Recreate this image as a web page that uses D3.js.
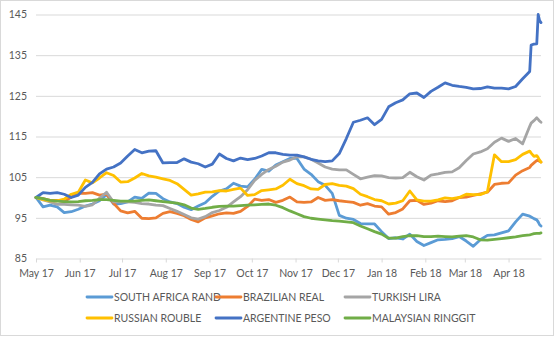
<!DOCTYPE html>
<html><head><meta charset="utf-8">
<script src="https://cdn.jsdelivr.net/npm/d3@7"></script>
<style>
html,body{margin:0;padding:0;background:#fff;}
svg{display:block;font-family:Lato,"Open Sans",sans-serif;}
</style></head><body>
<svg id="chart" width="555" height="337"></svg>
<script>
const dates = ["2017-05-01","2017-05-06","2017-05-11","2017-05-16","2017-05-21","2017-05-26","2017-05-31","2017-06-05","2017-06-10","2017-06-15","2017-06-20","2017-06-25","2017-06-30","2017-07-05","2017-07-10","2017-07-15","2017-07-20","2017-07-25","2017-07-30","2017-08-04","2017-08-09","2017-08-14","2017-08-19","2017-08-24","2017-08-29","2017-09-03","2017-09-08","2017-09-13","2017-09-18","2017-09-23","2017-09-28","2017-10-03","2017-10-08","2017-10-13","2017-10-18","2017-10-23","2017-10-28","2017-11-02","2017-11-07","2017-11-12","2017-11-17","2017-11-22","2017-11-27","2017-12-02","2017-12-07","2017-12-12","2017-12-17","2017-12-22","2017-12-27","2018-01-01","2018-01-06","2018-01-11","2018-01-16","2018-01-21","2018-01-26","2018-01-31","2018-02-05","2018-02-10","2018-02-15","2018-02-20","2018-02-25","2018-03-02","2018-03-07","2018-03-12","2018-03-17","2018-03-22","2018-03-27","2018-04-01","2018-04-06","2018-04-11","2018-04-16","2018-04-17","2018-04-19","2018-04-21","2018-04-22","2018-04-23","2018-04-24"];

const southAfricaRand = [100,97.7,98.1,97.7,96.3,96.5,97.1,97.9,98.4,99.2,100.7,98.4,98.5,98.9,100.1,99.8,101.1,101.0,99.7,98.9,98.5,97.6,97.0,97.9,98.7,100.3,101.6,102.1,103.5,102.8,102.6,104.5,106.9,106.5,108.0,108.8,109.6,109.6,107.0,105.7,103.9,103.0,101.0,95.6,94.9,94.6,93.6,93.5,93.5,91.6,89.9,90.1,89.8,91.0,89.2,88.2,88.9,89.6,89.7,89.9,90.4,89.3,88.0,89.6,90.7,90.8,91.3,91.8,94.0,95.9,95.4,95.2,94.8,94.5,94.0,93.3,93.0];
const brazilianReal = [100,99.7,99.3,99.3,99.0,100.1,101.1,101.0,101.2,100.6,100.8,98.6,96.7,96.2,96.6,94.9,94.8,95.0,96.1,96.5,96.1,95.5,94.6,94.0,95.0,95.5,96.0,96.2,96.1,96.6,97.8,99.6,99.3,99.5,98.8,99.3,100.1,98.9,98.8,98.9,100.0,99.3,99.5,99.2,99.0,98.8,98.1,98.5,97.9,97.7,95.9,96.3,97.2,99.2,99.3,98.3,98.6,99.2,99.0,99.2,100.0,100.1,100.5,100.9,101.3,103.2,103.5,103.6,105.5,106.6,107.4,107.9,108.5,109.1,109.1,108.9,108.7];
const turkishLira = [100,99.4,98.9,98.3,98.3,98.2,98.1,97.8,98.2,99.8,101.3,98.9,98.9,98.9,98.8,98.5,98.4,98.1,98.0,97.3,96.6,95.8,95.0,94.7,95.3,96.3,96.8,97.6,98.9,100.2,101.9,104.2,105.7,106.9,107.7,108.7,109.2,110.0,110.0,109.4,108.5,107.5,107.0,106.8,106.8,105.7,104.6,105.0,105.4,105.3,104.9,104.8,104.9,106.2,105.1,104.3,105.5,105.8,106.2,106.3,107.3,109.1,110.7,111.2,112.0,113.6,114.6,113.8,114.5,113.2,117.5,118.3,118.9,119.6,119.2,118.8,118.5];
const russianRouble = [100,99.5,99.2,99.2,99.6,100.8,101.3,104.3,103.6,104.8,106.1,105.4,103.8,103.9,104.8,105.9,105.3,105.0,104.6,104.2,103.4,102.0,100.6,100.9,101.3,101.4,101.7,101.6,102.0,102.3,100.5,100.7,101.7,101.9,102.1,103.0,104.5,103.4,102.9,102.1,102.0,103.2,103.4,103.0,102.8,102.2,100.8,100.2,99.5,99.2,98.4,98.6,99.2,101.6,99.4,99.1,99.1,99.4,99.9,99.7,100.0,100.8,100.7,100.7,101.4,110.5,108.8,108.8,109.3,110.6,111.4,110.9,110.1,110.3,109.8,109.2,108.7];
const argentinePeso = [100,101.2,101.0,101.2,100.8,100.0,100.6,102.5,103.7,105.8,107.0,107.5,108.5,110.2,111.8,111.0,111.4,111.5,108.5,108.6,108.6,109.5,108.7,108.3,107.5,108.2,110.7,109.6,109.0,109.7,109.3,109.6,110.2,111.0,111.0,110.6,110.4,110.4,110.0,109.4,109.0,108.8,109.0,110.8,114.5,118.5,119.0,119.6,117.9,119.2,122.3,123.3,124.0,125.5,125.7,124.6,126.1,127.1,128.2,127.6,127.3,127.1,126.7,126.8,127.2,126.9,126.9,126.7,127.3,129.2,131.0,137.5,137.7,137.8,145.0,143.5,143.0];
const malaysianRinggit = [100,99.7,99.3,99.1,99.0,98.9,99.0,99.2,99.3,99.5,99.5,99.3,99.1,99.1,99.1,99.3,99.4,99.2,99.0,98.8,98.6,98.2,97.4,97.1,97.3,97.6,97.8,97.9,97.9,98.0,98.1,98.2,98.3,98.4,98.1,97.5,96.7,96.0,95.3,94.9,94.7,94.5,94.3,94.2,94.0,93.8,93.0,92.3,91.6,91.0,90.0,90.0,90.4,90.6,90.6,90.4,90.4,90.5,90.4,90.3,90.5,90.6,90.3,89.6,89.5,89.7,89.9,90.1,90.3,90.6,90.8,90.9,91.1,91.2,91.2,91.2,91.3];

const seriesNames = ["SOUTH AFRICA RAND","BRAZILIAN REAL","TURKISH LIRA","RUSSIAN ROUBLE","ARGENTINE PESO","MALAYSIAN RINGGIT"];
const seriesColors = ["#5B9BD5","#ED7D31","#A5A5A5","#FFC000","#4472C4","#70AD47"];
const seriesValues = [southAfricaRand, brazilianReal, turkishLira, russianRouble, argentinePeso, malaysianRinggit];

const yTicks = [85,95,105,115,125,135,145];
const xTickDates = ["2017-05-01","2017-06-01","2017-07-01","2017-08-01","2017-09-01","2017-10-01","2017-11-01","2017-12-01","2018-01-01","2018-02-01","2018-03-01","2018-04-01"];
const xTickLabels = ["May 17","Jun 17","Jul 17","Aug 17","Sep 17","Oct 17","Nov 17","Dec 17","Jan 18","Feb 18","Mar 18","Apr 18"];

const parse = d3.timeParse("%Y-%m-%d");
const dts = dates.map(parse);
const svg = d3.select("#chart");

svg.append("rect").attr("x",0.5).attr("y",0.5).attr("width",553).attr("height",335)
  .attr("fill","#fff").attr("stroke","#D9D9D9");

const x = d3.scaleTime().domain(d3.extent(dts)).range([36, 541]);
const y = d3.scaleLinear().domain([85,145]).range([258.5, 14.5]);

const yAxis = d3.axisLeft(y).tickValues(yTicks).tickSize(-(541-36)).tickPadding(9).tickFormat(d3.format("d"));
const gy = svg.append("g").attr("transform","translate(36,0)").call(yAxis);
gy.select(".domain").remove();
gy.selectAll(".tick line").attr("stroke","#D9D9D9").attr("stroke-width",1)
  .filter(d=>d===85).remove();
gy.selectAll(".tick text").attr("fill","#595959").style("font-size","10.5px").style("font-family","Lato");

const xAxis = d3.axisBottom(x).tickValues(xTickDates.map(parse))
  .tickFormat((d,i)=>xTickLabels[i]).tickSize(4).tickSizeOuter(0).tickPadding(7);
const gx = svg.append("g").attr("transform","translate(0,258.5)").call(xAxis);
gx.select(".domain").attr("stroke","#D9D9D9");
gx.selectAll(".tick line").attr("stroke","#D9D9D9");
gx.selectAll(".tick text").attr("fill","#595959").style("font-size","10.5px").style("font-family","Lato");

const line = d3.line().x((d,i)=>x(dts[i])).y(d=>y(d));
seriesValues.forEach((vals,si)=>{
  svg.append("path").datum(vals).attr("d",line)
    .attr("fill","none").attr("stroke",seriesColors[si]).attr("stroke-width",2.8)
    .attr("stroke-linejoin","round").attr("stroke-linecap","round");
});

const legX = [87, 216, 345];
const legY = [297, 318];
seriesNames.forEach((n,i)=>{
  const gx0 = legX[i%3], gy0 = legY[Math.floor(i/3)];
  const g = svg.append("g");
  g.append("line").attr("x1",gx0).attr("x2",gx0+25).attr("y1",gy0).attr("y2",gy0)
    .attr("stroke",seriesColors[i]).attr("stroke-width",2.8).attr("stroke-linecap","round");
  g.append("text").attr("x",gx0+27).attr("y",gy0).attr("dy","0.35em")
    .attr("fill","#595959").style("font-size","10.5px").text(n);
});
</script>
</body></html>
